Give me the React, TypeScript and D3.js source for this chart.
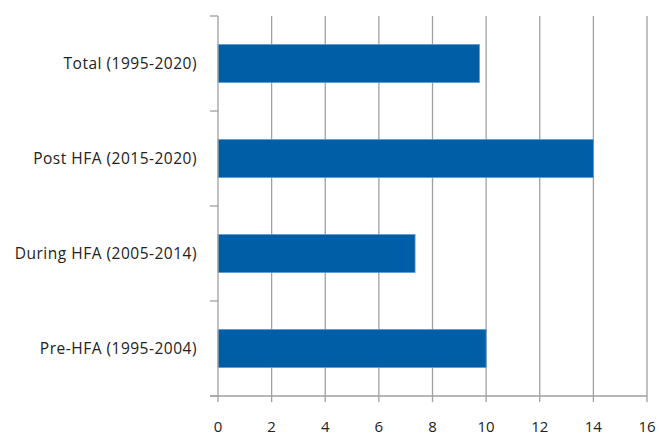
import React from "react";
import * as d3 from "d3";

const categories = [
  "Total (1995-2020)",
  "Post HFA (2015-2020)",
  "During HFA (2005-2014)",
  "Pre-HFA (1995-2004)",
];
const values = [9.75, 14, 7.35, 10];
const xTicks = [0, 2, 4, 6, 8, 10, 12, 14, 16];

const W = 659;
const H = 437;
const M = { left: 218, right: 12, top: 16, bottom: 41 };

export default function App() {
  const x = d3.scaleLinear().domain([0, 16]).range([M.left, W - M.right]);
  const y = d3
    .scaleBand<string>()
    .domain(categories)
    .range([M.top, H - M.bottom])
    .paddingInner(0.6)
    .paddingOuter(0.3);
  const bandStep = y.step();
  const boundaries = d3.range(categories.length + 1).map((i) => M.top + i * bandStep);
  const y0 = H - M.bottom;
  const grid = "#a0a0a0";
  const font = "'Open Sans', 'DejaVu Sans', sans-serif";

  return (
    <svg
      width={W}
      height={H}
      style={{ position: "absolute", left: 0, top: 0, background: "#fff" }}
    >
      {/* vertical gridlines */}
      {xTicks.slice(1).map((t) => (
        <line key={t} x1={x(t)} x2={x(t)} y1={M.top} y2={y0} stroke={grid} strokeWidth={1.3} />
      ))}
      {/* bars */}
      {categories.map((c, i) => (
        <rect
          key={c}
          x={x(0)}
          y={y(c)!}
          width={x(values[i]) - x(0)}
          height={y.bandwidth()}
          fill="#005EA6"
          stroke="#5b9bd5"
          strokeWidth={0.8}
        />
      ))}
      {/* category axis */}
      <line x1={x(0)} x2={x(0)} y1={M.top} y2={y0} stroke={grid} strokeWidth={1.3} />
      {boundaries.map((b, i) => (
        <line key={i} x1={x(0) - 8} x2={x(0)} y1={b} y2={b} stroke={grid} strokeWidth={1.3} />
      ))}
      {categories.map((c) => (
        <text
          key={c}
          x={197}
          y={y(c)! + y.bandwidth() / 2}
          dy="0.35em"
          textAnchor="end"
          fontFamily={font}
          fontSize={15.5}
          letterSpacing={0.5}
          fill="#222"
        >
          {c}
        </text>
      ))}
      {/* value axis */}
      <line x1={x(0) - 8} x2={x(16)} y1={y0} y2={y0} stroke={grid} strokeWidth={1.3} />
      {xTicks.map((t) => (
        <g key={t}>
          <line x1={x(t)} x2={x(t)} y1={y0} y2={y0 + 6} stroke={grid} strokeWidth={1.3} />
          <text
            x={x(t)}
            y={432}
            textAnchor="middle"
            fontFamily={font}
            fontSize={15}
            fill="#222"
          >
            {t}
          </text>
        </g>
      ))}
    </svg>
  );
}
